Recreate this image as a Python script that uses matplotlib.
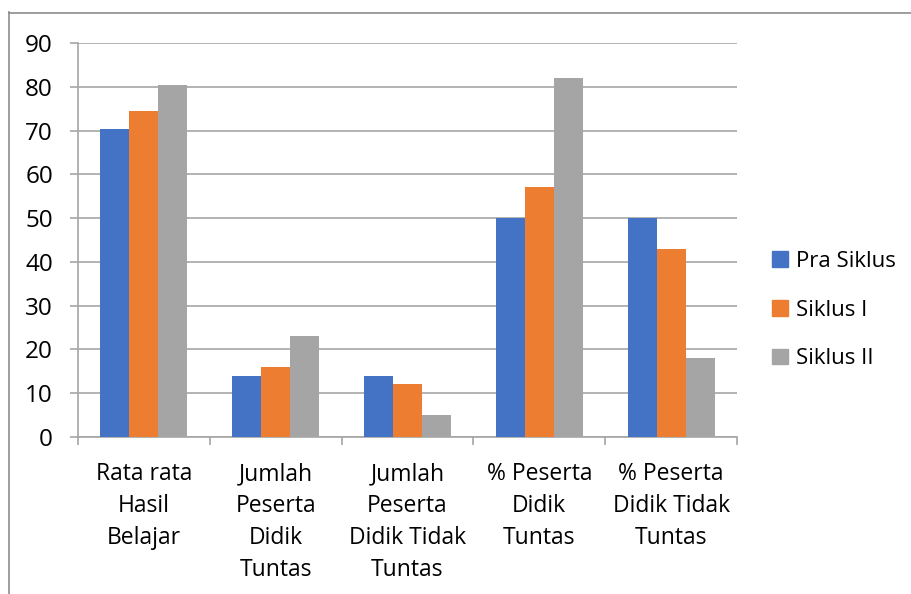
import matplotlib
matplotlib.use("Agg")
import matplotlib.pyplot as plt
import numpy as np
from matplotlib.lines import Line2D
from matplotlib.patches import Patch

categories = ["Rata rata\nHasil\nBelajar", "Jumlah\nPeserta\nDidik\nTuntas",
              "Jumlah\nPeserta\nDidik Tidak\nTuntas", "% Peserta\nDidik\nTuntas",
              "% Peserta\nDidik Tidak\nTuntas"]
series_names = ["Pra Siklus", "Siklus I", "Siklus II"]
pra_siklus = [70.3, 14, 14, 50, 50]
siklus_1 = [74.4, 16, 12, 57, 43]
siklus_2 = [80.5, 23, 5, 82, 18]
yticks = [0, 10, 20, 30, 40, 50, 60, 70, 80, 90]
colors = ["#4472C4", "#ED7D31", "#A5A5A5"]

plt.rcParams['font.family'] = ['Open Sans', 'DejaVu Sans']
W, H = 912, 594
fig = plt.figure(figsize=(W/100, H/100), dpi=100)
ax = fig.add_axes([78/W, 1-437/H, (737-78)/W, (437-43)/H])

x = np.arange(len(categories))
bw = 0.22
for i, (vals, c, n) in enumerate(zip([pra_siklus, siklus_1, siklus_2], colors, series_names)):
    ax.bar(x + (i-1)*bw, vals, width=bw, color=c, label=n, zorder=3)

ax.set_xlim(-0.5, len(categories)-0.5)
ax.set_ylim(0, 90)
ax.set_yticks(yticks)
ax.set_yticklabels([str(v) for v in yticks], fontsize=17.5)
ax.grid(axis='y', color='#A6A6A6', linewidth=1.2, zorder=0)
ax.set_xticks(x)
ax.set_xticklabels(categories, fontsize=16.5, linespacing=1.45)
ax.set_xticks(np.arange(len(categories)+1)-0.5, minor=True)
ax.tick_params(axis='x', which='major', length=0, pad=18)
ax.tick_params(axis='x', which='minor', length=6, color='#A6A6A6', width=1.2)
ax.tick_params(axis='y', length=6, color='#A6A6A6', width=1.2, pad=12)
for s in ['top', 'right']:
    ax.spines[s].set_visible(False)
for s in ['left', 'bottom']:
    ax.spines[s].set_color('#A6A6A6')
    ax.spines[s].set_linewidth(1.2)

handles = [Patch(color=c) for c in colors]
fig.legend(handles, series_names, loc='center left', bbox_to_anchor=(768/W, 1-310/H),
           frameon=False, fontsize=16, handlelength=0.7, handleheight=0.7,
           handletextpad=0.35, labelspacing=1.25, borderpad=0.2, borderaxespad=0)

# outer chart border (left and top visible)
fig.add_artist(Line2D([9.5/W, 9.5/W], [0, 1-12/H], color='#8C8C8C', linewidth=1.2))
fig.add_artist(Line2D([9.5/W, 1], [1-12.5/H, 1-12.5/H], color='#8C8C8C', linewidth=1.2))

fig.savefig("out.png", dpi=100)
